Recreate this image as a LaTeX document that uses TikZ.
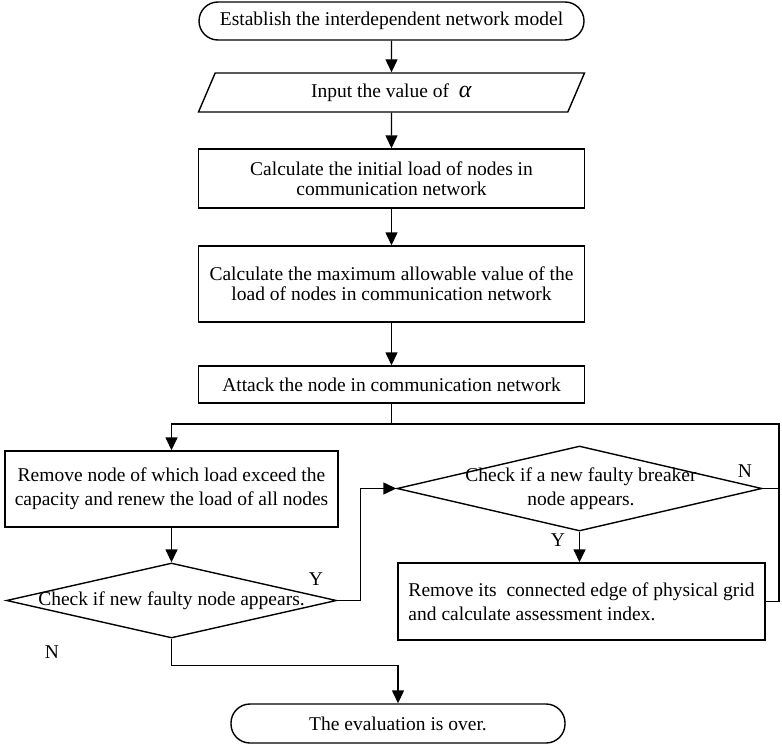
\documentclass[tikz,border=0pt]{standalone}
\usepackage{fontspec}
\setmainfont{Liberation Serif}
\usetikzlibrary{shapes.geometric, arrows.meta}

\tikzset{
  flowline/.style={line width=1.4pt, -{Triangle[width=12pt,length=13pt]}},
  plainline/.style={line width=1.4pt},
  process/.style={draw, line width=1.4pt, rectangle, align=center, inner sep=0pt},
  terminal/.style={draw, line width=1.4pt, rectangle, rounded corners=19pt, inner sep=0pt},
  ioblock/.style={draw, line width=1.4pt, trapezium, trapezium left angle=47, trapezium right angle=133, trapezium stretches body, inner sep=0pt},
  decision/.style={draw, line width=1.4pt, diamond, inner sep=0pt},
  flag/.style={inner sep=0pt},
}

\begin{document}
\begin{tikzpicture}[x=1pt, y=-1pt, font=\fontsize{19.5}{20}\selectfont]
	\useasboundingbox (0,0) rectangle (782,744);

	% main column
	\node[terminal, minimum width=385pt, minimum height=38pt] (start) at (391.5,21) {Establish the interdependent network model};
	\node[ioblock, minimum width=386pt, minimum height=39pt] (input) at (391.5,92.5) {Input the value of \ {\fontsize{24}{24}\selectfont\textit{α}}};
	\node[process, minimum width=386pt, minimum height=59pt] (calc1) at (391.5,178.5) {Calculate the initial load of nodes in\\communication network};
	\node[process, minimum width=386pt, minimum height=76pt] (calc2) at (391.5,284) {Calculate the maximum allowable value of the\\load of nodes in communication network};
	\node[process, minimum width=386pt, minimum height=37pt] (attack) at (391.5,384.5) {Attack the node in communication network};

	% loop
	\node[process, minimum width=333pt, minimum height=76pt, font=\fontsize{19.5}{24}\selectfont] (remove) at (171.5,489) {Remove node of which load exceed the\\capacity and renew the load of all nodes};
	\node[decision, minimum width=330pt, minimum height=75pt] (check1) at (171.5,600.5) {};
	\node (check1text) at (check1.center) {Check if new faulty node appears.};
	\node[decision, minimum width=365pt, minimum height=85pt] (check2) at (579.5,488.5) {};
	\node[align=center, font=\fontsize{19.5}{24}\selectfont] (check2text) at (581,489) {Check if a new faulty breaker\\node appears.};
	\node[process, minimum width=367pt, minimum height=77pt, align=left, font=\fontsize{19.5}{24}\selectfont] (edge) at (581.5,601.5) {Remove its\ \ connected edge of physical grid\\and calculate assessment index.};
	\node[terminal, minimum width=334pt, minimum height=39pt] (finish) at (398,723.5) {The evaluation is over.};

	\coordinate (split) at (391.5,424);
	\coordinate (loop) at (779,424);

	\draw[flowline] (start) -- (input);
	\draw[flowline] (input) -- (calc1);
	\draw[flowline] (calc1) -- (calc2);
	\draw[flowline] (calc2) -- (attack);
	\draw[flowline] (attack) -- (split) -| (remove);
	\draw[plainline] (split) -- (loop) |- (edge);
	\draw[plainline] (check2) -- (check2 -| loop);
	\draw[flowline] (remove) -- (check1);
	\draw[flowline] (check1.east) -- ++(23,0) |- (check2.west);
	\draw[flowline] (check2.south) -- (check2.south |- edge.north);
	\draw[flowline] (check1.south) -- ++(0,27) -| (finish);

	% Y / N
	\node[flag] (yes1) at (316,579) {Y};
	\node[flag] (yes2) at (558,540) {Y};
	\node[flag] (no2) at (745,471) {N};
	\node[flag] (no1) at (52,652) {N};
\end{tikzpicture}
\end{document}
